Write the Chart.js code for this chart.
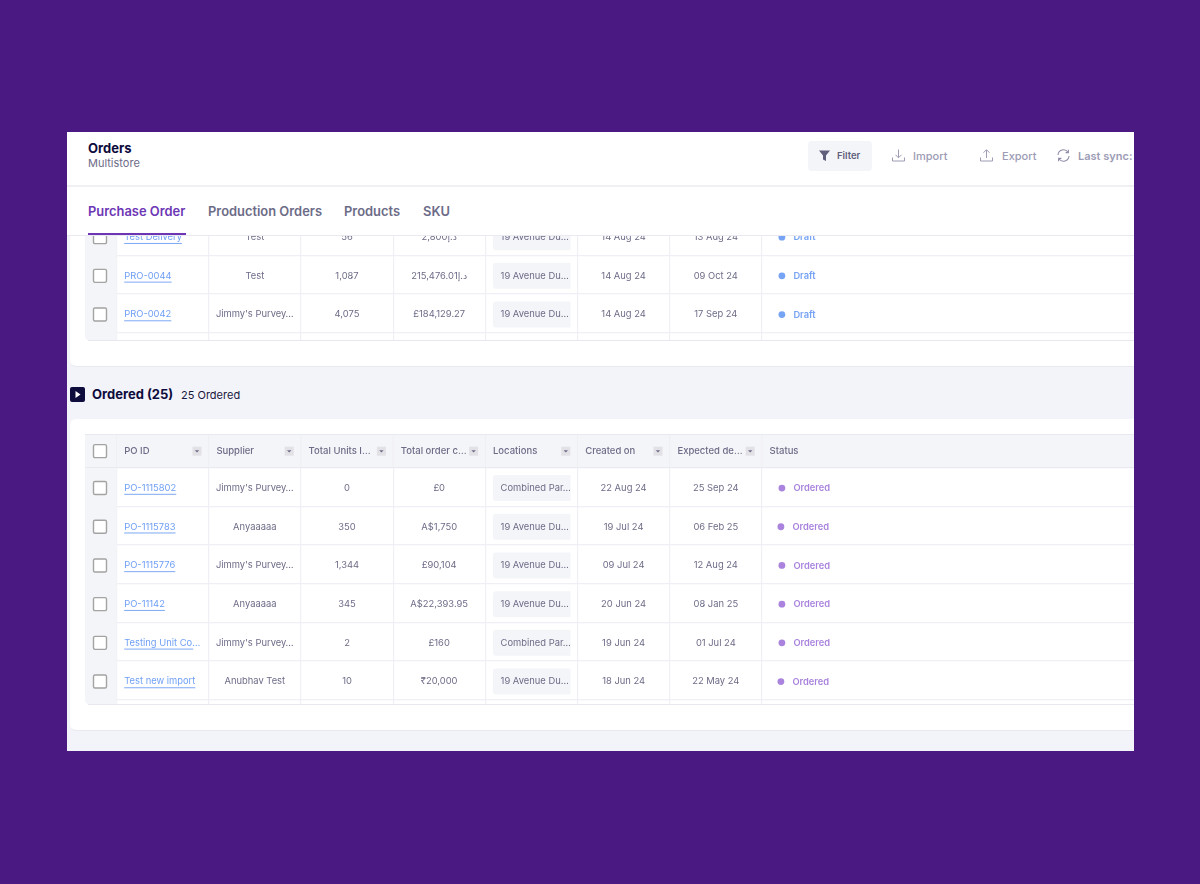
<!DOCTYPE html>
<html><head><meta charset="utf-8">
<script src="https://cdn.jsdelivr.net/npm/chart.js@4/dist/chart.umd.min.js"></script>
<style>
html,body{margin:0;padding:0;width:1200px;height:884px;overflow:hidden;background:#4a1982;font-family:Inter,sans-serif}
#app{position:absolute;left:67px;top:132px;width:1067px;height:619px;background:#f3f4fa;overflow:hidden;filter:blur(.35px)}
.abs{position:absolute;white-space:nowrap}
#hdr{left:0;top:0;width:1067px;height:53px;background:#fff;border-bottom:2px solid #f0f0f4}
#tabs{left:0;top:55px;width:1067px;height:48px;background:#fff;border-bottom:1px solid #e9e9ef;z-index:3}
.card{background:#fff;left:3px;width:1064px;border:0;border-bottom:1px solid #e8e9f1;border-radius:0 0 0 6px}
canvas{position:absolute;display:block}
</style></head><body>
<div id="app">
 <div class="abs" id="hdr"></div>
 <div class="abs" style="left:21px;top:8px;font-size:13px;font-weight:700;color:#0e0b3d;z-index:4">Orders</div>
 <div class="abs" style="left:21px;top:24px;font-size:11px;color:#6d6c88;z-index:4">Multistore</div>
 <div class="abs" style="left:741px;top:9px;width:64px;height:30px;background:#f4f5f8;border-radius:4px"></div>
 <svg class="abs" style="left:751px;top:17px" width="13" height="13" viewBox="0 0 13 13"><path d="M1 1.5h11L8 6.5V12L5 10.5V6.5z" fill="#5f5e7b"/></svg>
 <div class="abs" style="left:770px;top:18px;font-size:9.5px;font-weight:600;color:#5f5e7b">Filter</div>
 <svg class="abs" style="left:824px;top:16px" width="15" height="15" viewBox="0 0 15 15" fill="none" stroke="#9d9cb5" stroke-width="1"><path d="M7.5 1.5v8M4.5 6.8l3 3 3-3M1.5 9.5v3.5h12V9.5"/></svg>
 <div class="abs" style="left:846px;top:17px;font-size:11px;font-weight:500;color:#9d9cb5">Import</div>
 <svg class="abs" style="left:912px;top:16px" width="15" height="15" viewBox="0 0 15 15" fill="none" stroke="#9d9cb5" stroke-width="1"><path d="M7.5 10V2M4.5 4.7l3-3 3 3M1.5 9.5v3.5h12V9.5"/></svg>
 <div class="abs" style="left:935px;top:17px;font-size:11px;font-weight:500;color:#9d9cb5">Export</div>
 <svg class="abs" style="left:990px;top:17px" width="13" height="13" viewBox="0 0 13 13" fill="none" stroke="#8f8eaa" stroke-width="1.1"><path d="M1 6A5.5 5.5 0 0 1 11 3.2M12 7A5.5 5.5 0 0 1 2 9.8M11.4.8v2.8H8.6M1.6 12.2V9.4h2.8"/></svg>
 <div class="abs" style="left:1011px;top:17px;font-size:11px;font-weight:600;color:#9d9cb5">Last sync: 2 hours ago</div>

 <div class="abs" id="tabs"></div>
 <div class="abs" style="left:21px;top:71.5px;font-size:12.9px;font-weight:600;color:#6d36b5;z-index:4">Purchase Order</div>
 <div class="abs" style="left:21px;top:101px;width:98px;height:2px;background:#6d36b5;z-index:4"></div>
 <div class="abs" style="left:141px;top:71.5px;font-size:12.9px;font-weight:600;color:#6d6c88;z-index:4">Production Orders</div>
 <div class="abs" style="left:277px;top:71.5px;font-size:12.9px;font-weight:600;color:#6d6c88;z-index:4">Products</div>
 <div class="abs" style="left:356px;top:71.5px;font-size:12.9px;font-weight:600;color:#6d6c88;z-index:4">SKU</div>

 <div class="abs card" style="top:103px;height:131px"></div>
 <canvas id="draftTable" style="left:18px;top:104px"></canvas>

 <svg class="abs" style="left:3px;top:255px" width="15" height="15" viewBox="0 0 15 15"><rect width="15" height="15" rx="2" fill="#0e0b3d"/><path d="M5.5 4v7l5-3.5z" fill="#fff"/></svg>
 <div class="abs" style="left:25px;top:254px;font-size:13px;font-weight:700;color:#0e0b3d">Ordered (25)</div>
 <div class="abs" style="left:114px;top:255.5px;font-size:11px;color:#1a1840">25 Ordered</div>

 <div class="abs card" style="top:287px;height:311px;border-radius:6px 0 0 6px"></div>
 <canvas id="orderedTable" style="left:18px;top:302px"></canvas>
</div>
<script>
// ---- Draft table (top, scrolled)
const draftIds       = ["Test Delivery","PRO-0044","PRO-0042"];
const draftSuppliers = ["Test","Test","Jimmy's Purvey…"];
const draftUnits     = ["56","1,087","4,075"];
const draftCosts     = ["2,800د.إ","215,476.01د.إ","£184,129.27"];
const draftLocations = ["19 Avenue Du…","19 Avenue Du…","19 Avenue Du…"];
const draftCreated   = ["14 Aug 24","14 Aug 24","14 Aug 24"];
const draftExpected  = ["13 Aug 24","09 Oct 24","17 Sep 24"];
const draftStatus    = ["Draft","Draft","Draft"];
// ---- Ordered table
const orderedIds       = ["PO-1115802","PO-1115783","PO-1115776","PO-11142","Testing Unit Co…","Test new import"];
const orderedSuppliers = ["Jimmy's Purvey…","Anyaaaaa","Jimmy's Purvey…","Anyaaaaa","Jimmy's Purvey…","Anubhav Test"];
const orderedUnits     = ["0","350","1,344","345","2","10"];
const orderedCosts     = ["£0","A$1,750","£90,104","A$22,393.95","£160","₹20,000"];
const orderedLocations = ["Combined Par…","19 Avenue Du…","19 Avenue Du…","19 Avenue Du…","Combined Par…","19 Avenue Du…"];
const orderedCreated   = ["22 Aug 24","19 Jul 24","09 Jul 24","20 Jun 24","19 Jun 24","18 Jun 24"];
const orderedExpected  = ["25 Sep 24","06 Feb 25","12 Aug 24","08 Jan 25","01 Jul 24","22 May 24"];
const orderedStatus    = ["Ordered","Ordered","Ordered","Ordered","Ordered","Ordered"];
const columnHeaders    = ["PO ID","Supplier","Total Units I…","Total order c…","Locations","Created on","Expected de…","Status"];

const STATUS_COLOR = {Draft:"#76a3f4",Ordered:"#a983dd"};
const FONT = "Inter, 'DejaVu Sans', sans-serif";
const COL = 92.2, ROW = 38.7, CHECK = 31.5;   // px per unit of the two linear scales
const COL_MIN = -CHECK/COL, ROW_MID = .53;
const LINE = "#eff0f5", SOFT = "#f4f5f8", TEXT = "#6d6c88", LINK = "#6f9ff5";

const tablePlugin = {
  id:"tablePlugin",
  beforeDatasetsDraw(c){
    const o = c.options.plugins.tablePlugin, g = c.ctx, x = c.scales.x, y = c.scales.y, a = c.chartArea;
    g.save();
    const px = v => x.getPixelForValue(v), py = v => y.getPixelForValue(v);
    // checkbox column
    g.fillStyle = SOFT;
    g.beginPath(); g.roundRect(a.left,a.top,CHECK,a.bottom-a.top,[0,0,0,5]); g.fill();
    // header band
    if(o.header){
      g.fillStyle = SOFT; g.fillRect(a.left,a.top,a.right-a.left,py(0)-a.top);
      g.fillStyle = LINE;
      for(let i=0;i<=7;i++) g.fillRect(px(i)-.6,a.top,1.2,py(0)-a.top);
      g.fillStyle = "#e9e9f0"; g.fillRect(a.left,py(0)-.5,a.right-a.left,1);
      g.fillStyle = "#e8e9f0"; g.fillRect(a.left,a.top,a.right-a.left,1);
      o.header.forEach((h,i)=>{
        g.font = "500 9.5px "+FONT; g.fillStyle = TEXT; g.textAlign="left"; g.textBaseline="middle";
        g.fillText(h,px(i)+7.7,py(-.43)+.3);
        if(i<7){
          const bx = px(i)+76, by = py(-.43)-4.2;
          g.fillStyle="#e2e2e6"; g.fillRect(bx,by,9,9);
          g.fillStyle="#6d6c88"; g.beginPath(); g.moveTo(bx+2.3,by+3.6); g.lineTo(bx+6.7,by+3.6); g.lineTo(bx+4.5,by+5.8); g.fill();
        }
      });
      box(g,a.left+15,py(-.43)+.3);
    }
    // bottom edge of the table
    g.fillStyle = "#e8e9f0"; g.fillRect(a.left+3,a.bottom-1,a.right-a.left,1);
    // rows
    o.ids.forEach((id,r)=>{
      const cy = py(r+ROW_MID);
      box(g,a.left+15,cy);
      g.textBaseline="middle";
      g.font = "400 9.4px "+FONT; g.textAlign="left"; g.fillStyle = LINK;
      const w = g.measureText(id).width;
      g.fillText(id,px(0)+7.7,cy);
      g.fillRect(px(0)+7.7,cy+5.8,w-(id.endsWith("…")?7:0),.9);
      g.fillStyle = TEXT; g.textAlign="center";
      g.fillText(o.suppliers[r],px(1.5),cy);
      g.fillText(o.units[r],px(2.5),cy);
      g.fillText(o.costs[r],px(3.5),cy);
      g.fillText(o.created[r],px(5.5),cy);
      g.fillText(o.expected[r],px(6.5),cy);
      // location pill
      g.fillStyle = SOFT;
      g.beginPath(); g.roundRect(px(4)+7.7,cy-13,77.5,26,[3,0,0,3]); g.fill();
      g.fillStyle = TEXT; g.textAlign="left";
      g.fillText(o.locations[r],px(4)+15.3,cy);
      // status label (the dot is the dataset point)
      g.font = "600 9.3px "+FONT; g.fillStyle = STATUS_COLOR[o.status[r]];
      g.fillText(o.status[r],px(7)+31.5-(o.shiftRows.includes(r)?1:0),cy+.3);
    });
    g.restore();
  }
};
function box(g,cx,cy){
  g.save(); g.strokeStyle="#a3a3a3"; g.lineWidth=1.4; g.fillStyle="#fff";
  g.beginPath(); g.roundRect(cx-6.5,cy-6.5,13,13,1.5); g.fill(); g.stroke(); g.restore();
}
function makeTable(id,o){
  const cv = document.getElementById(id);
  cv.width = 1049; cv.height = o.height;
  cv.style.width="1049px"; cv.style.height=o.height+"px";
  const edges = [];
  for(let i=0;i<=7;i++) edges.push(i);
  const rowEdges = [];
  for(let i=0;i<=o.ids.length;i++) rowEdges.push(i);
  new Chart(cv,{
    type:"scatter",
    plugins:[tablePlugin],
    data:{datasets:[{
      data:o.status.map((s,i)=>({x:7.217-(o.shiftRows.includes(i)?1/COL:0),y:i+ROW_MID})),
      pointRadius:3.4, pointHoverRadius:3.4, pointBorderWidth:0,
      pointBackgroundColor:o.status.map(s=>STATUS_COLOR[s])
    }]},
    options:{
      responsive:false, animation:false, devicePixelRatio:1,
      layout:{padding:0,autoPadding:false},
      events:[],
      plugins:{legend:{display:false},tooltip:{enabled:false},
        tablePlugin:o},
      scales:{
        x:{type:"linear",min:COL_MIN,max:COL_MIN+1049/COL,
           afterBuildTicks(s){s.ticks=edges.map(v=>({value:v}));},
           ticks:{display:false},border:{display:false},
           grid:{color:LINE,lineWidth:1.2,drawTicks:false}},
        y:{type:"linear",reverse:true,min:o.yMin,max:o.yMin+o.height/ROW,
           afterBuildTicks(s){s.ticks=rowEdges.map(v=>({value:v}));},
           ticks:{display:false},border:{display:false},
           grid:{color:LINE,lineWidth:1.2,drawTicks:false}}
      }
    }
  });
}
makeTable("draftTable",{height:105,yMin:.5,shiftRows:[],ids:draftIds,suppliers:draftSuppliers,units:draftUnits,costs:draftCosts,
  locations:draftLocations,created:draftCreated,expected:draftExpected,status:draftStatus});
makeTable("orderedTable",{height:271,yMin:-.866,shiftRows:[1,5],header:columnHeaders,ids:orderedIds,suppliers:orderedSuppliers,units:orderedUnits,costs:orderedCosts,
  locations:orderedLocations,created:orderedCreated,expected:orderedExpected,status:orderedStatus});
</script>
</body></html>
